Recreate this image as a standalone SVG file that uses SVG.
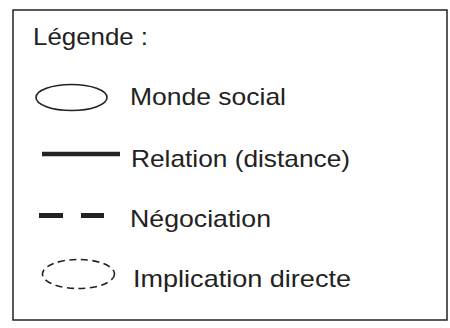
<svg xmlns="http://www.w3.org/2000/svg" width="450" height="328" viewBox="0 0 450 328">
<style>
.t{font-family:"Liberation Sans",Arial,sans-serif;font-size:24px;fill:#222;}
.frame{fill:#fff;stroke:#222;stroke-width:1.5;}
.shape{fill:none;stroke:#222;stroke-width:1.6;}
</style>
<rect width="450" height="328" fill="#fff"/>
<g id="legend">
<rect class="frame" x="13" y="10" width="434" height="310"/>
<text class="t" x="33" y="45" textLength="115" lengthAdjust="spacingAndGlyphs">Légende :</text>
</g>
<g id="monde-social">
<ellipse class="shape" cx="71.5" cy="97.5" rx="35.5" ry="13"/>
<text class="t" x="130" y="105" textLength="156" lengthAdjust="spacingAndGlyphs">Monde social</text>
</g>
<g id="connectors">
<line x1="42" y1="154" x2="120" y2="154" stroke="#222" stroke-width="4.5"/>
<line x1="39" y1="215.5" x2="104" y2="215.5" stroke="#222" stroke-width="5" stroke-dasharray="24 18"/>
</g>
<g id="relation">
<text class="t" x="131" y="167" textLength="219" lengthAdjust="spacingAndGlyphs">Relation (distance)</text>
</g>
<g id="negociation">
<text class="t" x="130" y="227" textLength="141" lengthAdjust="spacingAndGlyphs">Négociation</text>
</g>
<g id="implication">
<ellipse class="shape" cx="78.5" cy="274" rx="36" ry="14.5" stroke-width="1.8" stroke-dasharray="7 4.5"/>
<text class="t" x="133" y="287" textLength="218" lengthAdjust="spacingAndGlyphs">Implication directe</text>
</g>
</svg>
